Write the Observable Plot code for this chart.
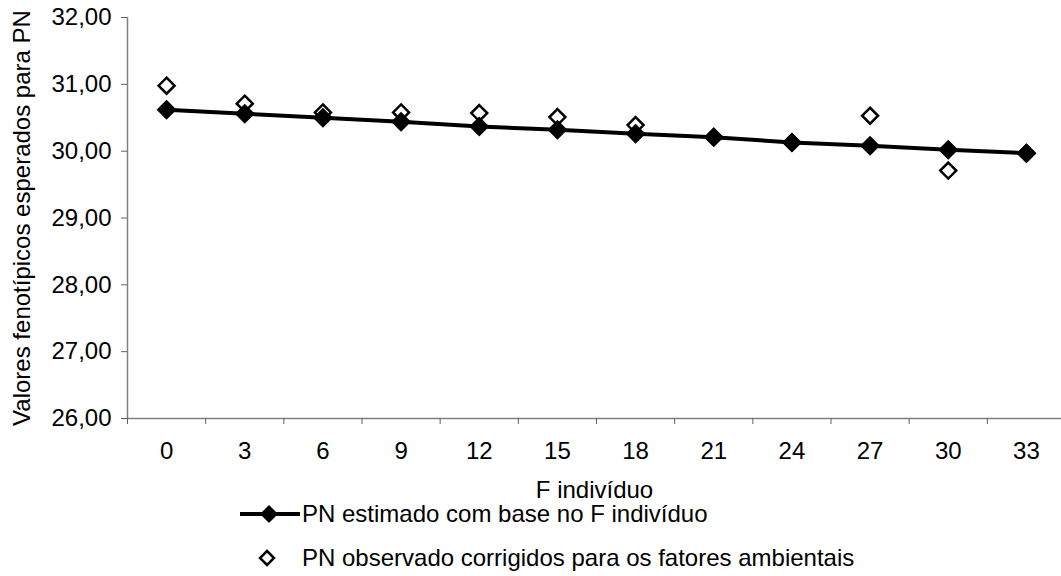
<!DOCTYPE html>
<html>
<head>
<meta charset="utf-8">
<script src="https://cdn.jsdelivr.net/npm/d3@7"></script>
<script src="https://cdn.jsdelivr.net/npm/@observablehq/plot@0.6"></script>
<style>
  body { margin: 0; background: #fff; font-family: "Liberation Sans", Arial, sans-serif; }
  #wrap { position: relative; width: 1061px; height: 576px; overflow: hidden; }
  #wrap > svg { position: absolute; left: 0; top: 0; }
  .leg { position: absolute; left: 240px; display: flex; align-items: center; font-size: 24px; line-height: 20px; color: #000; white-space: nowrap; }
  .leg svg { display: block; margin-right: 2px; }
</style>
</head>
<body>
<div id="wrap"></div>
<script>
// Data
const F = [0, 3, 6, 9, 12, 15, 18, 21, 24, 27, 30, 33];
const estimado = [30.62, 30.56, 30.50, 30.44, 30.37, 30.32, 30.26, 30.21, 30.13, 30.08, 30.02, 29.97];
const observado = [30.98, 30.71, 30.58, 30.58, 30.57, 30.51, 30.39, 30.21, 30.13, 30.53, 29.71, 29.97];
const yTicks = [26, 27, 28, 29, 30, 31, 32];
const seriesNames = ["PN estimado com base no F indivíduo", "PN observado corrigidos para os fatores ambientais"];
const xTitle = "F indivíduo";
const yTitle = "Valores fenotípicos esperados para PN";

const rows = F.map((f, i) => ({F: f, est: estimado[i], obs: observado[i]}));
const step = F[1] - F[0];
const boundaries = F.map(f => f - step / 2);
const fmt = d => d.toFixed(2).replace(".", ",");

const chart = Plot.plot({
  width: 1061,
  height: 504,
  marginLeft: 127,
  marginRight: 0,
  marginTop: 17,
  marginBottom: 86,
  style: {fontFamily: '"Liberation Sans", Arial, sans-serif', fontSize: "24px", color: "#000", background: "transparent"},
  x: {type: "linear", domain: [F[0] - step / 2, F[F.length - 1] + step / 2], range: [127, 1065]},
  y: {domain: [yTicks[0], yTicks[yTicks.length - 1]]},
  marks: [
    Plot.ruleY([yTicks[0]], {stroke: "#808080", strokeWidth: 1.5}),
    Plot.ruleX([F[0] - step / 2], {stroke: "#808080", strokeWidth: 1.5}),
    Plot.axisY({ticks: yTicks, tickSize: 6, tickPadding: 10, tickFormat: fmt, stroke: "#606060",
      label: yTitle, labelAnchor: "center", labelArrow: "none", labelOffset: 115}),
    Plot.axisX({ticks: boundaries, tickSize: 6, tickFormat: () => "", stroke: "#606060", label: null}),
    Plot.axisX({ticks: F, tickSize: 0, tickPadding: 23, tickFormat: d => String(d),
      label: xTitle, labelAnchor: "center", labelArrow: "none", labelOffset: 79}),
    Plot.dot(rows, {x: "F", y: "obs", symbol: "diamond2", r: 7.2, stroke: "#000", strokeWidth: 2.5, fill: "#fff"}),
    Plot.line(rows, {x: "F", y: "est", stroke: "#000", strokeWidth: 4}),
    Plot.dot(rows, {x: "F", y: "est", symbol: "diamond2", r: 9, fill: "#000", stroke: "none"})
  ]
});
const wrap = document.getElementById("wrap");
wrap.appendChild(chart);

// Legend
function diamond(cx, cy, h) {
  return `M${cx},${cy - h}L${cx + h},${cy}L${cx},${cy + h}L${cx - h},${cy}Z`;
}
const l1 = document.createElement("div");
l1.className = "leg";
l1.style.top = "504px";
l1.innerHTML = `<svg width="60" height="20"><line x1="0" y1="10" x2="60" y2="10" stroke="#000" stroke-width="4"/><path d="${diamond(29, 10, 9)}" fill="#000"/></svg><span></span>`;
l1.querySelector("span").textContent = seriesNames[0];
wrap.appendChild(l1);
const l2 = document.createElement("div");
l2.className = "leg";
l2.style.top = "548px";
l2.innerHTML = `<svg width="60" height="20"><path d="${diamond(27, 10, 7)}" fill="#fff" stroke="#000" stroke-width="2.5"/></svg><span></span>`;
l2.querySelector("span").textContent = seriesNames[1];
wrap.appendChild(l2);
</script>
</body>
</html>
